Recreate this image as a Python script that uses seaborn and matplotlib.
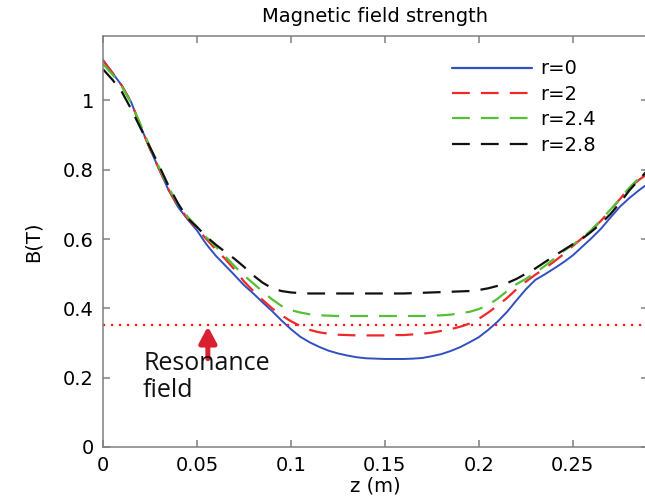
import numpy as np
import pandas as pd
import matplotlib
matplotlib.use("Agg")
import matplotlib.pyplot as plt
import seaborn as sns

# ---- data ----
z = [0.000, 0.005, 0.010, 0.015, 0.020, 0.025, 0.030, 0.035, 0.040, 0.045,
     0.050, 0.055, 0.060, 0.065, 0.070, 0.075, 0.080, 0.085, 0.090, 0.095,
     0.100, 0.105, 0.110, 0.115, 0.120, 0.125, 0.130, 0.135, 0.140, 0.145,
     0.150, 0.155, 0.160, 0.165, 0.170, 0.175, 0.180, 0.185, 0.190, 0.195,
     0.200, 0.205, 0.210, 0.215, 0.220, 0.225, 0.230, 0.235, 0.240, 0.245,
     0.250, 0.255, 0.260, 0.265, 0.270, 0.275, 0.280, 0.285, 0.290]
b_r0 = [1.117, 1.080, 1.043, 0.995, 0.925, 0.860, 0.800, 0.740, 0.692, 0.657,
        0.625, 0.585, 0.552, 0.524, 0.496, 0.467, 0.443, 0.417, 0.392, 0.365,
        0.340, 0.318, 0.302, 0.289, 0.278, 0.270, 0.264, 0.259, 0.256, 0.255,
        0.254, 0.254, 0.254, 0.255, 0.257, 0.262, 0.268, 0.277, 0.288, 0.302,
        0.317, 0.338, 0.362, 0.390, 0.423, 0.455, 0.482, 0.498, 0.515, 0.533,
        0.553, 0.578, 0.603, 0.630, 0.662, 0.693, 0.718, 0.740, 0.760]
b_r2 = [1.115, 1.080, 1.043, 0.995, 0.925, 0.860, 0.800, 0.742, 0.695, 0.660,
        0.630, 0.600, 0.570, 0.543, 0.512, 0.478, 0.450, 0.424, 0.400, 0.380,
        0.363, 0.349, 0.338, 0.331, 0.327, 0.324, 0.323, 0.322, 0.322, 0.322,
        0.322, 0.323, 0.323, 0.325, 0.327, 0.330, 0.335, 0.340, 0.347, 0.356,
        0.370, 0.388, 0.408, 0.430, 0.455, 0.477, 0.497, 0.515, 0.535, 0.556,
        0.580, 0.603, 0.627, 0.653, 0.683, 0.715, 0.748, 0.770, 0.790]
b_r24 = [1.105, 1.075, 1.040, 0.993, 0.930, 0.865, 0.805, 0.748, 0.700, 0.665,
         0.635, 0.605, 0.578, 0.550, 0.522, 0.495, 0.472, 0.448, 0.426, 0.407,
         0.395, 0.388, 0.383, 0.380, 0.379, 0.378, 0.378, 0.378, 0.378, 0.378,
         0.378, 0.378, 0.378, 0.378, 0.378, 0.379, 0.380, 0.382, 0.386, 0.390,
         0.398, 0.410, 0.428, 0.450, 0.470, 0.485, 0.503, 0.522, 0.543, 0.565,
         0.584, 0.603, 0.627, 0.655, 0.685, 0.715, 0.748, 0.775, 0.800]
b_r28 = [1.090, 1.060, 1.025, 0.975, 0.920, 0.865, 0.810, 0.752, 0.702, 0.660,
         0.635, 0.607, 0.584, 0.563, 0.543, 0.520, 0.495, 0.474, 0.458, 0.450,
         0.446, 0.444, 0.443, 0.443, 0.443, 0.443, 0.443, 0.443, 0.443, 0.443,
         0.443, 0.443, 0.443, 0.444, 0.445, 0.446, 0.447, 0.448, 0.449, 0.450,
         0.453, 0.458, 0.465, 0.473, 0.485, 0.500, 0.515, 0.533, 0.551, 0.568,
         0.585, 0.601, 0.622, 0.645, 0.672, 0.704, 0.740, 0.770, 0.800]
labels = ["r=0", "r=2", "r=2.4", "r=2.8"]
resonance_B = 0.352
x_ticks = [0, 0.05, 0.1, 0.15, 0.2, 0.25]
x_ticklabels = ["0", "0.05", "0.1", "0.15", "0.2", "0.25"]
y_ticks = [0, 0.2, 0.4, 0.6, 0.8, 1.0]
y_ticklabels = ["0", "0.2", "0.4", "0.6", "0.8", "1"]

df = pd.DataFrame({
    "z": z * 4,
    "B": b_r0 + b_r2 + b_r24 + b_r28,
    "r": [lab for lab in labels for _ in z],
})

sns.set_style("ticks")
plt.rcParams["font.family"] = ["DejaVu Sans"]
plt.rcParams["text.color"] = "black"
plt.rcParams["axes.labelcolor"] = "black"

palette = {"r=0": "#3050c0", "r=2": "#f02828", "r=2.4": "#55c035", "r=2.8": "#111111"}
dashes = {"r=0": "", "r=2": (8, 5), "r=2.4": (8, 5), "r=2.8": (8, 5)}

fig = plt.figure(figsize=(6.45, 5.03), dpi=100)
ax = fig.add_axes([103 / 645, 56 / 503, 545 / 645, 411 / 503])

sns.lineplot(data=df, x="z", y="B", hue="r", style="r", palette=palette,
             dashes=dashes, linewidth=1.6, ax=ax, sort=False)
ax.lines[0].set_linewidth(1.4)

ax.axhline(resonance_B, color="#e82020", linestyle=(0, (1, 2.6)), linewidth=1.6)

ax.annotate("", xy=(0.0558, resonance_B - 0.004), xytext=(0.0558, 0.255),
            arrowprops=dict(arrowstyle="-|>,head_length=0.6,head_width=0.32",
                            color="#d8202e", lw=3.6, mutation_scale=16,
                            shrinkA=0, shrinkB=0))
ax.text(0.0213, 0.277, "Resonance\nfield", fontsize=18, family=["Open Sans", "DejaVu Sans"],
        va="top", ha="left", linespacing=1.1, color="#111111")

ax.set_xlim(0, 0.29)
ax.set_ylim(0, 1.186)
ax.set_xticks(x_ticks)
ax.set_xticklabels(x_ticklabels)
ax.set_yticks(y_ticks)
ax.set_yticklabels(y_ticklabels)
ax.tick_params(direction="in", length=5, width=1.1, color="#808080",
               labelcolor="black", labelsize=14, top=True, right=True, pad=6.5)
for s in ax.spines.values():
    s.set_color("#808080")
    s.set_linewidth(1.1)

ax.set_xlabel("z (m)", fontsize=14, labelpad=1)
ax.set_ylabel("B(T)", fontsize=14, labelpad=15)
ax.set_title("Magnetic field strength", fontsize=14, pad=10)

leg = ax.legend(loc="upper left", bbox_to_anchor=(0.640, 0.943), frameon=False,
                fontsize=14, handlelength=4.1, handletextpad=0.45,
                labelspacing=0.33, borderpad=0, borderaxespad=0, title=None)

fig.savefig("out.png", dpi=100)
